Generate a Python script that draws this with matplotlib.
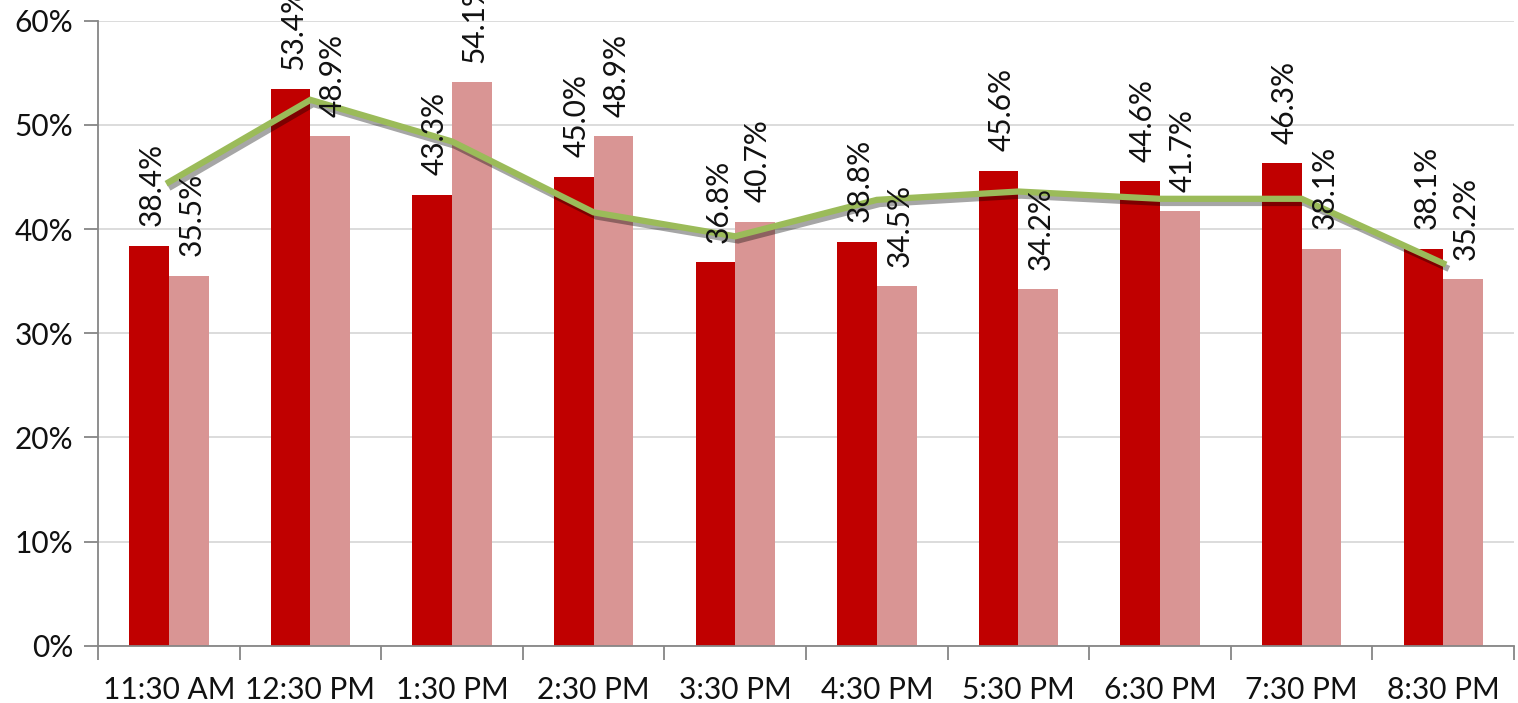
import numpy as np
import matplotlib.pyplot as plt
import matplotlib.patheffects as pe
from matplotlib.ticker import FixedLocator, PercentFormatter

plt.rcParams['font.family'] = ['Lato', 'DejaVu Sans']

# data
times = ['11:30 AM', '12:30 PM', '1:30 PM', '2:30 PM', '3:30 PM',
         '4:30 PM', '5:30 PM', '6:30 PM', '7:30 PM', '8:30 PM']
series_a = [38.4, 53.4, 43.3, 45.0, 36.8, 38.8, 45.6, 44.6, 46.3, 38.1]
series_b = [35.5, 48.9, 54.1, 48.9, 40.7, 34.5, 34.2, 41.7, 38.1, 35.2]
trend = [44.5, 52.4, 48.4, 41.6, 39.3, 42.8, 43.6, 42.9, 42.9, 36.7]

dark_red = '#C00000'
pink = '#D99594'
green = '#9BBB59'
axis_grey = '#868686'

fig = plt.figure(figsize=(15.18, 7.03), dpi=100)
ax = fig.add_axes([0.0646, 0.0815, 0.9328, 0.8891])

x = np.arange(len(times))
w = 0.28
bars_a = ax.bar(x - w / 2, series_a, w, color=dark_red, zorder=2)
bars_b = ax.bar(x + w / 2, series_b, w, color=pink, zorder=2)

# value labels, rotated, above each bar
for bars, vals in [(bars_a, series_a), (bars_b, series_b)]:
    for b, v in zip(bars, vals):
        ax.annotate('%.1f%%' % v, (b.get_x() + b.get_width() / 2, v),
                    xytext=(2, 14), textcoords='offset points',
                    rotation=90, ha='center', va='bottom',
                    fontsize=21.5, color='#111111', zorder=4,
                    annotation_clip=False)

ax.plot(x, trend, color=green, lw=4.5, solid_joinstyle='miter', zorder=3,
        path_effects=[pe.SimpleLineShadow(offset=(2, -3), shadow_color='black', alpha=0.35),
                      pe.Normal()])

ax.set_xlim(-0.5, len(times) - 0.5)
ax.set_ylim(0, 60)
ax.yaxis.set_major_locator(FixedLocator(np.arange(0, 61, 10)))
ax.yaxis.set_major_formatter(PercentFormatter(decimals=0))
ax.grid(axis='y', color='#D9D9D9', lw=1.3, zorder=0)
ax.set_axisbelow(True)

ax.set_xticks(x)
ax.set_xticklabels(times)
ax.set_xticks(np.arange(-0.5, len(times)), minor=True)
ax.tick_params(axis='x', which='major', length=0, pad=22, labelsize=21.5, labelcolor='#111111')
ax.tick_params(axis='x', which='minor', length=10, width=1.3, color=axis_grey)
ax.tick_params(axis='y', length=10, width=1.3, color=axis_grey, pad=8, labelsize=21.5, labelcolor='#111111')

for s in ['top', 'right']:
    ax.spines[s].set_visible(False)
for s in ['left', 'bottom']:
    ax.spines[s].set_color(axis_grey)
    ax.spines[s].set_linewidth(1.3)

fig.savefig('out.png', dpi=100)
